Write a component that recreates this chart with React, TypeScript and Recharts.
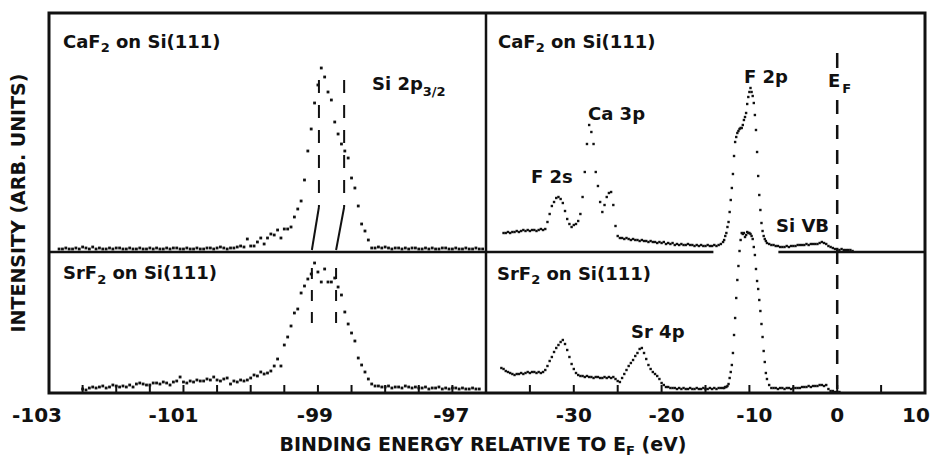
import { ScatterChart, Scatter, XAxis, YAxis, ReferenceLine } from "recharts";

const FONT = '"DejaVu Sans", sans-serif';
const INK = "#111";

// Si 2p core level scans, 0.05 eV steps (arb. units)
const si2pStep = 0.05;
const caSi2pStart = -102.85;
const caSi2pCounts = [
  3, 3, 4, 3, 3, 4, 3, 5, 4, 3, 5, 3, 4, 3, 3, 4, 3, 4, 4, 3,
  3, 4, 3, 3, 4, 3, 3, 4, 3, 4, 3, 3, 4, 3, 4, 4, 3, 3, 4, 3,
  3, 4, 3, 3, 4, 4, 3, 4, 5, 4, 3, 4, 4, 5, 6, 5,
  13, 6, 6, 10, 14, 8, 14, 18, 17, 22, 14, 23, 23, 25, 35, 43, 51, 72, 101, 123,
  149, 167, 184, 175, 160, 152, 130, 118, 108, 101, 94, 74, 64, 46, 28, 21, 12, 4,
  4, 5, 4, 5, 4, 3, 4, 4, 3, 4, 3, 4, 4, 3, 3, 4, 3, 4, 3, 3,
  4, 4, 3, 3, 4, 3, 3, 4, 3, 3, 4, 3, 3,
];
const srSi2pStart = -102.5;
const srSi2pCounts = [
  4, 3, 5, 6, 5, 6, 7, 5, 6, 8, 7, 6, 7, 6, 8, 6, 9, 10, 9, 8,
  8, 10, 10, 9, 11, 10, 8, 11, 12, 16, 11, 10, 12, 11, 13, 12, 12, 14, 13, 16,
  13, 12, 14, 15, 9, 12, 11, 13, 12, 13,
  15, 18, 17, 21, 19, 20, 22, 27, 34, 27,
  48, 56, 67, 80, 84, 100, 107, 114, 119, 130, 121, 111, 124, 111, 111, 115, 106, 98, 81, 69,
  60, 52, 35, 28, 21, 14, 9, 7,
  7, 6, 6, 7, 5, 6, 6, 5, 7, 6, 5, 6, 5, 5, 6, 4, 5, 5, 6, 4,
  5, 4, 5, 5, 4, 5, 4, 4, 5, 4, 4,
];

// valence band scans: 0.25 eV steps, 0.125 eV across F 2p
const vbStep = 0.25;
const vbFineStep = 0.125;
const caVbStart = -38;
const caVbCounts = [
  19, 19, 20, 19, 20, 20, 21, 20, 21, 22, 21, 22, 21, 22, 22, 21, 22, 23, 22, 23,
  30, 38, 46, 50, 54, 55, 53, 49, 41, 33, 28, 25, 27, 28, 31, 38, 55, 80, 108, 127,
  120, 108, 80, 66, 50, 40, 47, 55, 59, 60, 47, 26, 16, 14,
  14, 13, 14, 13, 12, 13, 12, 12, 11, 12, 11, 11, 10, 11, 10, 10, 9, 10, 9, 10,
  8, 9, 8, 9, 7, 8, 7, 8, 7, 7, 8, 7, 7, 6, 7, 6, 7, 6, 6, 7,
  6, 6, 7, 6, 7, 8,
];
const caF2pStart = -13;
const caF2pCounts = [
  10, 12, 16, 19, 25, 30, 40, 52, 64, 78, 96, 110, 115, 119, 121, 123, 124, 124, 127, 132,
  135, 139, 148, 155, 160, 164, 160, 156, 149, 137, 122, 100, 76, 57, 42, 29, 21, 16, 13, 11, 9,
];
const caTailStart = -7.75;
const caTailCounts = [
  8, 7, 7, 6, 6, 5, 5, 5, 6, 5, 6, 6, 6, 7, 7, 7, 7, 8, 7, 8,
  8, 8, 8, 9, 10, 9, 8, 6, 5, 4, 3, 3, 2, 3, 2, 2, 2, 2, 1,
];
const srVbStart = -38.25;
const srVbCounts = [
  25, 24, 22, 21, 20, 19, 18, 19, 19, 20, 19, 20, 21, 20, 21, 21, 20, 21, 20, 21,
  23, 27, 32, 36, 41, 45, 48, 51, 53, 49, 43, 36, 29, 24, 20, 18, 17, 17, 16, 17,
  16, 16, 15, 16, 16, 15, 15, 16, 15, 16, 15, 16, 14, 12, 11, 15, 19, 23, 27, 30,
  33, 37, 40, 44, 45, 40, 34, 28, 24, 21, 19, 17, 14, 10, 8, 6, 6, 5, 5, 5,
  4, 5, 4, 5, 4, 4, 5, 4, 4, 5, 4, 4, 5, 4, 4, 5, 4, 5, 4, 5, 5,
];
const srF2pStart = -13;
const srF2pCounts = [
  5, 5, 6, 6, 7, 9, 15, 21, 28, 40, 58, 75, 95, 113, 127, 142, 153, 160, 159, 160,
  156, 158, 161, 160, 160, 159, 157, 154, 146, 138, 124, 112, 104, 93, 82, 69, 56, 42, 31, 20, 14,
];
const srTailStart = -7.75;
const srTailCounts = [
  8, 5, 5, 5, 4, 5, 5, 4, 5, 5, 4, 5, 5, 5, 5, 6, 6, 6, 7, 6,
  7, 7, 7, 8, 8, 7, 8, 4, 2, 2, 1, 1, 1,
];

// fitted component positions (eV)
const caComponents = [-98.985, -98.61];
const caComponentFoot = [-99.09, -98.73];
const srComponents = [-99.09, -98.73];

const coreTicks = [-103, -102.5, -102, -101.5, -101, -100.5, -100, -99.5, -99, -98.5, -98, -97.5, -97, -96.5];
const coreLabels = [-103, -101, -99, -97];
const vbTicks = [-40, -35, -30, -25, -20, -15, -10, -5, 0, 5, 10];
const vbLabels = [-30, -20, -10, 0, 10];

const toPoints = (start: number, step: number, counts: number[]) =>
  counts.map((c, k) => ({ e: +(start + k * step).toFixed(3), i: c }));

const caSi2p = toPoints(caSi2pStart, si2pStep, caSi2pCounts);
const srSi2p = toPoints(srSi2pStart, si2pStep, srSi2pCounts);
const caVb = [
  ...toPoints(caVbStart, vbStep, caVbCounts),
  ...toPoints(caF2pStart, vbFineStep, caF2pCounts),
  ...toPoints(caTailStart, vbStep, caTailCounts),
];
const srVb = [
  ...toPoints(srVbStart, vbStep, srVbCounts),
  ...toPoints(srF2pStart, vbFineStep, srF2pCounts),
  ...toPoints(srTailStart, vbStep, srTailCounts),
];

const PLOT_TOP = 13;
const PLOT_H = 380;
const M = { top: 10, right: 40, bottom: 0, left: 50 };
const AXIS_H = 50;
// each spectrum stack: lower spectrum from the frame bottom, upper from the divider
const yBotDomain = [0, PLOT_H];
const yTopDomain = [-141, PLOT_H - 141];

const labelNudge: Record<string, number> = {
  "-103": -12, "-101": -10, "-99": -3, "-97": -1, "-20": 5, "-10": 5, "10": -9,
};

const makeTick = (labels: number[]) => (props: any) => {
  const { x, y, payload } = props;
  if (!labels.includes(payload.value)) return <g />;
  return (
    <text
      x={x + (labelNudge[String(payload.value)] ?? 0)}
      y={y + 37}
      textAnchor="middle"
      fill={INK}
      fontFamily={FONT}
      fontWeight="bold"
      fontSize={20}
    >
      {payload.value}
    </text>
  );
};

const dot = (size: number) => (props: any) => (
  <rect x={props.cx - size / 2} y={props.cy - size / 2} width={size} height={size} fill={INK} />
);

function Panel({
  left, width, domain, ticks, labels, children,
}: {
  left: number; width: number; domain: number[]; ticks: number[]; labels: number[]; children: any;
}) {
  return (
    <div style={{ position: "absolute", left: left - M.left, top: PLOT_TOP - M.top }}>
      <ScatterChart width={width + M.left + M.right} height={M.top + PLOT_H + AXIS_H} margin={M}>
        <XAxis
          xAxisId="b"
          type="number"
          dataKey="e"
          domain={domain}
          ticks={ticks}
          interval={0}
          allowDataOverflow
          orientation="bottom"
          height={AXIS_H}
          axisLine={false}
          tickSize={-8}
          tickMargin={0}
          tickLine={{ stroke: INK, strokeWidth: 2 }}
          tick={makeTick(labels)}
        />
        <XAxis
          xAxisId="t"
          type="number"
          domain={domain}
          ticks={ticks}
          interval={0}
          allowDataOverflow
          orientation="top"
          height={0}
          axisLine={false}
          tickSize={-8}
          tickLine={{ stroke: INK, strokeWidth: 2 }}
          tick={false}
        />
        <YAxis yAxisId="top" type="number" dataKey="i" domain={yTopDomain} allowDataOverflow hide />
        <YAxis yAxisId="bot" type="number" dataKey="i" domain={yBotDomain} allowDataOverflow hide />
        {children}
      </ScatterChart>
    </div>
  );
}

const txt = { fontFamily: FONT, fontWeight: "bold" as const, fill: INK, fontSize: 18, whiteSpace: "pre" as const };

export default function App() {
  return (
    <div style={{ position: "absolute", left: 0, top: 0, width: 930, height: 457, background: "#fff", overflow: "hidden" }}>
      <Panel left={49} width={437} domain={[-103, -96.5]} ticks={coreTicks} labels={coreLabels}>
        <ReferenceLine xAxisId="b" yAxisId="top" y={0} stroke={INK} strokeWidth={2.5} />
        {caComponents.map((e, k) => (
          <ReferenceLine
            key={"cd" + k}
            xAxisId="b"
            yAxisId="top"
            segment={[{ x: e, y: 172 }, { x: e, y: 45 }]}
            stroke={INK}
            strokeWidth={2}
            strokeDasharray="13 12"
          />
        ))}
        {caComponents.map((e, k) => (
          <ReferenceLine
            key={"cs" + k}
            xAxisId="b"
            yAxisId="top"
            segment={[{ x: e, y: 45 }, { x: caComponentFoot[k], y: 2 }]}
            stroke={INK}
            strokeWidth={2}
          />
        ))}
        {srComponents.map((e, k) => (
          <ReferenceLine
            key={"sd" + k}
            xAxisId="b"
            yAxisId="bot"
            segment={[{ x: e, y: 125 }, { x: e, y: 66 }]}
            stroke={INK}
            strokeWidth={2}
            strokeDasharray="11 11"
          />
        ))}
        <Scatter data={caSi2p} xAxisId="b" yAxisId="top" shape={dot(2.8)} isAnimationActive={false} />
        <Scatter data={srSi2p} xAxisId="b" yAxisId="bot" shape={dot(2.8)} isAnimationActive={false} />
      </Panel>

      <Panel left={486} width={439} domain={[-40, 10]} ticks={vbTicks} labels={vbLabels}>
        <ReferenceLine xAxisId="b" yAxisId="top" segment={[{ x: -40, y: 0 }, { x: -14.1, y: 0 }]} stroke={INK} strokeWidth={2.5} />
        <ReferenceLine xAxisId="b" yAxisId="top" segment={[{ x: -6.7, y: 0 }, { x: 10, y: 0 }]} stroke={INK} strokeWidth={2.5} />
        <ReferenceLine xAxisId="b" yAxisId="bot" segment={[{ x: 0, y: 340 }, { x: 0, y: 325 }]} stroke={INK} strokeWidth={2.5} />
        <ReferenceLine
          xAxisId="b"
          yAxisId="bot"
          segment={[{ x: 0, y: 293 }, { x: 0, y: 0 }]}
          stroke={INK}
          strokeWidth={2.5}
          strokeDasharray="14 11"
        />
        <Scatter data={caVb} xAxisId="b" yAxisId="top" shape={dot(2.4)} isAnimationActive={false} />
        <Scatter data={srVb} xAxisId="b" yAxisId="bot" shape={dot(2.4)} isAnimationActive={false} />
      </Panel>

      <svg width={930} height={457} style={{ position: "absolute", left: 0, top: 0, pointerEvents: "none" }}>
        <rect x={49} y={13} width={876} height={380} fill="none" stroke={INK} strokeWidth={3} />
        <line x1={486} y1={13} x2={486} y2={393} stroke={INK} strokeWidth={2.5} />

        <text x={63} y={47.5} {...txt}>
          CaF<tspan dy={4.5} fontSize={13}>2</tspan><tspan dy={-4.5}> on Si(111)</tspan>
        </text>
        <text x={498} y={47.5} {...txt}>
          CaF<tspan dy={4.5} fontSize={13}>2</tspan><tspan dy={-4.5}> on Si(111)</tspan>
        </text>
        <text x={63} y={279} {...txt}>
          SrF<tspan dy={4.5} fontSize={13}>2</tspan><tspan dy={-4.5}> on Si(111)</tspan>
        </text>
        <text x={497} y={279.5} {...txt}>
          SrF<tspan dy={4.5} fontSize={13}>2</tspan><tspan dy={-4.5}> on Si(111)</tspan>
        </text>

        <text x={372} y={90} {...txt}>
          Si 2p<tspan dy={6} fontSize={13}>3/2</tspan>
        </text>
        <text x={531} y={183} {...txt}>F 2s</text>
        <text x={588} y={120} {...txt}>Ca 3p</text>
        <text x={744} y={83} {...txt}>F 2p</text>
        <text x={828} y={87} {...txt}>
          E<tspan dx={2} dy={6} fontSize={13}>F</tspan>
        </text>
        <text x={776} y={232} {...txt}>Si VB</text>
        <text x={631} y={338} {...txt}>Sr 4p</text>

        <text transform="translate(25,203) rotate(-90)" textAnchor="middle" {...txt} fontSize={19}>
          INTENSITY (ARB. UNITS)
        </text>
        <text x={483} y={451} textAnchor="middle" {...txt} fontSize={19}>
          BINDING ENERGY RELATIVE TO E<tspan dy={4} fontSize={13}>F</tspan><tspan dy={-4}>  (eV)</tspan>
        </text>
      </svg>
    </div>
  );
}
